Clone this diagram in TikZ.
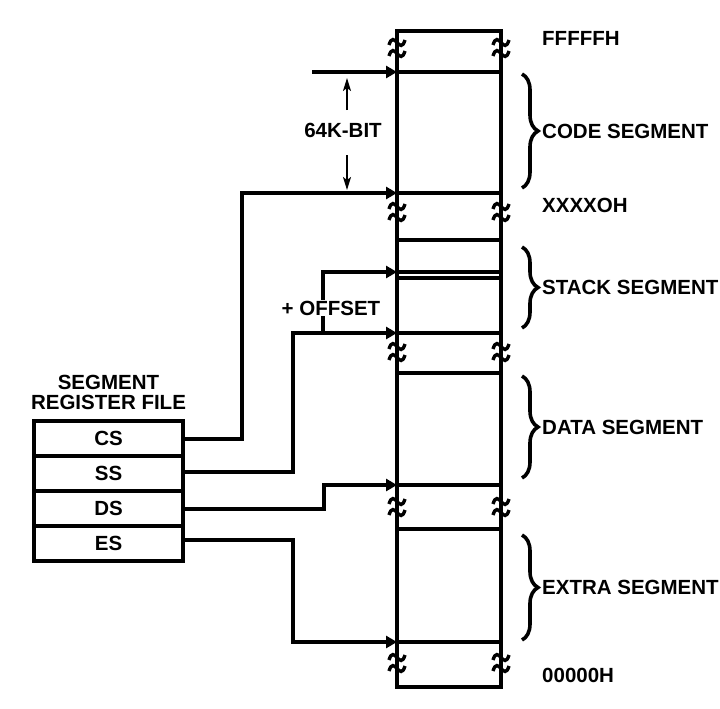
\documentclass[tikz,border=0pt]{standalone}
\usepackage{fontspec}
\setmainfont{Liberation Sans}
\usepackage{tikz}
\usetikzlibrary{
arrows.meta,
positioning,
decorations.pathreplacing
}
\tikzset{
wall/.style={line width=4pt},
link/.style={line width=4pt,-{Triangle[length=11pt,width=12pt]}},
dimarrow/.style={line width=1.6pt,-{Stealth[length=13pt,width=8pt,inset=3pt]}},
regbox/.style={draw,line width=4pt,minimum width=149pt,minimum height=35pt,inner sep=0pt,outer sep=0pt},
addr/.style={inner sep=0pt,anchor=west},
segbrace/.style={line width=3.6pt,decorate,decoration={brace,amplitude=16pt}},
brk/.pic={
\foreach \d in {-5.5,5.5}
\draw[line width=3.4pt] (-8,\d+2.5) .. controls (-3,\d-14) and (3,\d+14) .. (8,\d-2.5);
}
}

\begin{document}
\begin{tikzpicture}[
x=1pt,
y=-1pt,
font=\bfseries\fontsize{20.5}{20}\selectfont
]
\useasboundingbox (0,0) rectangle (720,709);

\draw[wall] (397,31) rectangle (501,687);
\foreach \y in {72,193,240,272,278,333,373,485,529,642}
\draw[wall] (397,\y) -- (501,\y);
\foreach \y in {48,212,352,507,663}
{
\pic at (397,\y) {brk};
\pic at (501,\y) {brk};
}

\coordinate (cfree) at (312,72);
\coordinate (ctop) at (397,72);
\coordinate (csin) at (397,193);
\coordinate (spin) at (397,272);
\coordinate (ssin) at (397,333);
\coordinate (ofs) at (323,333);
\coordinate (dsin) at (397,485);
\coordinate (esin) at (397,642);

\node[
regbox
]
(CS) at (108.5,438.5)
{
CS
};
\node[
regbox,
below=0pt of CS
]
(SS)
{
SS
};
\node[
regbox,
below=0pt of SS
]
(DS)
{
DS
};
\node[
regbox,
below=0pt of DS
]
(ES)
{
ES
};
\node[
inner sep=0pt,
align=center,
above=11pt of CS
]
(rfhead)
{
SEGMENT\\REGISTER FILE
};

\draw[link] (cfree) -- (ctop);
\draw[link] (CS.east) -- ++(59,0) |- (csin);
\draw[link] ([yshift=2pt]SS.east) -- ++(110,0) |- (ssin);
\draw[link] (ofs) |- (spin);
\draw[link] (DS.east) -- ++(141,0) |- (dsin);
\draw[link] ([yshift=4pt]ES.east) -- ++(110,0) |- (esin);

\node[
inner sep=0pt
]
(kbit) at (343,130)
{
64K-BIT
};
\draw[dimarrow] (347,110) -- (347,78);
\draw[dimarrow] (347,155) -- (347,190);

\node[
fill=white,
inner sep=1pt
]
(offset) at (331,308)
{
+ OFFSET
};

\draw[segbrace] (522,74) -- (522,188);
\draw[segbrace] (522,247) -- (522,328);
\draw[segbrace] (522,376) -- (522,478);
\draw[segbrace] (522,535) -- (522,640);

\node[addr] (ftop) at (542,38) {FFFFFH};
\node[addr] (code) at (542,131) {CODE SEGMENT};
\node[addr] (cbase) at (542,205) {XXXXOH};
\node[addr] (stack) at (542,287) {STACK SEGMENT};
\node[addr] (data) at (542,427) {DATA SEGMENT};
\node[addr] (extra) at (542,587) {EXTRA SEGMENT};
\node[addr] (fbot) at (542,675) {00000H};

\end{tikzpicture}
\end{document}
